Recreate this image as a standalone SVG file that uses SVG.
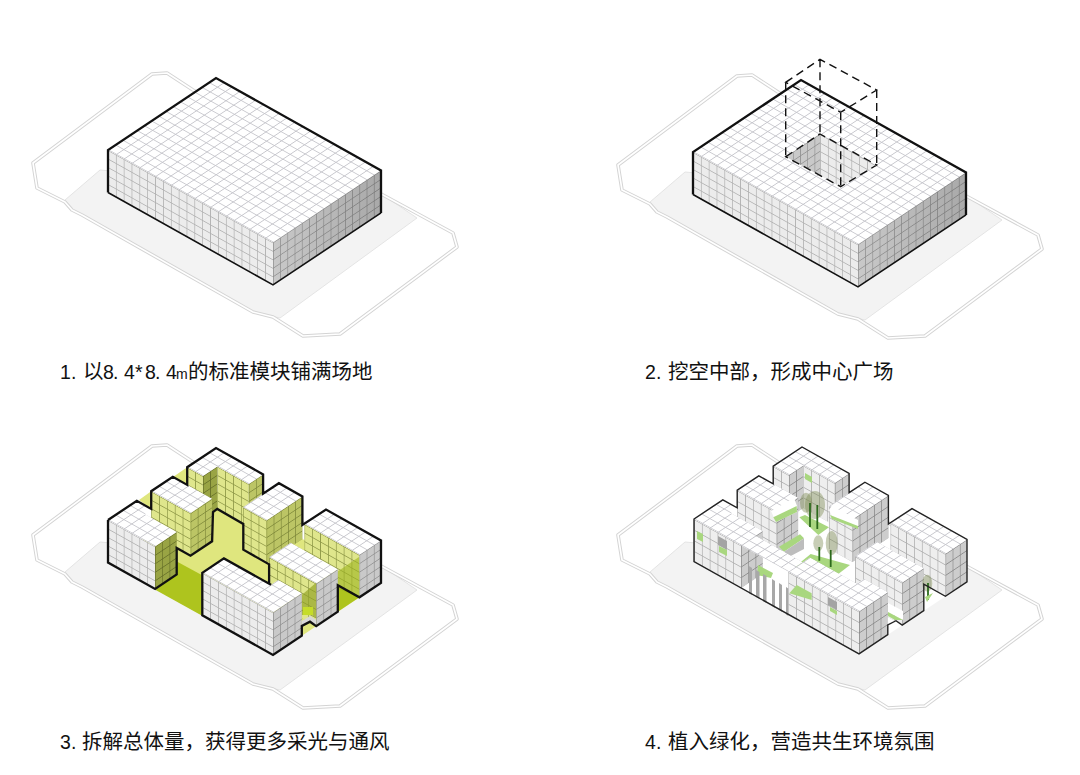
<svg xmlns="http://www.w3.org/2000/svg" xmlns:xlink="http://www.w3.org/1999/xlink" width="1080" height="775" viewBox="0 0 1080 775">
<style>
.cap{font-family:"Noto Sans CJK SC","Noto Sans",sans-serif;font-size:20.5px;fill:#111}
.num{font-family:"Liberation Sans","Noto Sans CJK SC",sans-serif;font-size:19.5px}
.m{font-family:"Liberation Sans",sans-serif;font-size:14px}
.bold{fill:none;stroke:#111;stroke-width:2.3;stroke-linejoin:miter}
.thin{fill:none;stroke:#222;stroke-width:1.4}
.dash{fill:none;stroke:#111;stroke-width:1.4;stroke-dasharray:8 5}
.lawn{fill:#a9d77f}
.crown{fill:#7d8a52;fill-opacity:.42}
.trunk{fill:none;stroke:#2c6a1c;stroke-width:1.8}
</style>
<defs>
<pattern id="tp" width="1" height="1" patternUnits="userSpaceOnUse"><rect width="1" height="1" fill="#fff"/><path d="M0 .05H1M.05 0V1" stroke="#c4c4ca" stroke-width=".1" fill="none"/></pattern>
<pattern id="wl" width="1" height="1" patternUnits="userSpaceOnUse"><rect width="1" height="1" fill="#ececec"/><path d="M0 .05H1M.05 0V1" stroke="#b0b0b0" stroke-width=".1" fill="none"/></pattern>
<pattern id="wr" width="1" height="1" patternUnits="userSpaceOnUse"><rect width="1" height="1" fill="#c9c9c9"/><path d="M0 .05H1M.05 0V1" stroke="#8e8e8e" stroke-width=".1" fill="none"/></pattern>
<pattern id="yl" width="1" height="1" patternUnits="userSpaceOnUse"><rect width="1" height="1" fill="#dfe68c"/><path d="M0 .05H1M.05 0V1" stroke="#8f9948" stroke-width=".1" fill="none"/></pattern>
<pattern id="yr" width="1" height="1" patternUnits="userSpaceOnUse"><rect width="1" height="1" fill="#bcc565"/><path d="M0 .05H1M.05 0V1" stroke="#7c8638" stroke-width=".1" fill="none"/></pattern>
<pattern id="yd" width="1" height="1" patternUnits="userSpaceOnUse"><rect width="1" height="1" fill="#99a444"/><path d="M0 .05H1M.05 0V1" stroke="#626c26" stroke-width=".1" fill="none"/></pattern>
<pattern id="gl" width="1" height="1.25" patternUnits="userSpaceOnUse"><rect width="1" height="1.25" fill="#eeeeee"/><path d="M0 .05H1M.05 0V1.25" stroke="#aeaeae" stroke-width=".1" fill="none"/></pattern>
<pattern id="gr" width="1" height="1.25" patternUnits="userSpaceOnUse"><rect width="1" height="1.25" fill="#cdcdcd"/><path d="M0 .05H1M.05 0V1.25" stroke="#848484" stroke-width=".1" fill="none"/></pattern>
<linearGradient id="shade" x1="0" x2="1" y1="0" y2="0"><stop offset="0" stop-color="#000" stop-opacity="0"/><stop offset="1" stop-color="#000" stop-opacity=".16"/></linearGradient>
<g id="site">
<polygon points="100,170 65,200 72,210 82,215 253,312 280,318 417,218 383,195" fill="#f3f3f3" stroke="#e4e4e4"/>
<g fill="none" stroke-linejoin="round">
<path d="M33 163L37 188L65 202L72 210L82 215L253 312L273 317L303 336L340 334L457 247L453 233L383 195L193 90L167 73L152 74Z" stroke="#d4d4d4" stroke-width="3.6"/>
<path d="M33 163L37 188L65 202L72 210L82 215L253 312L273 317L303 336L340 334L457 247L453 233L383 195L193 90L167 73L152 74Z" stroke="#fff" stroke-width="1.6"/>
</g>
</g>
<g id="box">
<g transform="matrix(7.857 4.4 7.2 -4.8 108 520)"><polygon fill="url(#tp)" points="0,0 21,0 21,15 0,15"/></g>
<g transform="matrix(7.857 4.4 0 8.5 108 520)"><rect fill="url(#wl)" width="21" height="5"/></g>
<g transform="matrix(7.2 -4.8 0 8.5 273 612.4)"><rect fill="url(#wr)" width="15" height="5"/><rect fill="url(#shade)" width="15" height="5"/></g>
<path class="bold" d="M108 562.5V520L216 448L381 540.4V582.9"/>
<path class="bold" style="stroke-width:1.6" d="M108 562.5L273 654.9L381 582.9"/>
</g>
</defs>
<rect width="1080" height="775" fill="#fff"/>

<g id="panel-1">
<use href="#site"/>
<use href="#box" transform="translate(0,-370)"/>
<text class="cap" y="379"><tspan class="num" x="60 71">1.</tspan><tspan x="83">以</tspan><tspan class="num" x="103 113 124 135 145 155 166">8.4*8.4</tspan><tspan class="m" x="176">m</tspan><tspan x="188">的标准模块铺满场地</tspan></text>
</g>

<g id="panel-2">
<use href="#site" transform="translate(585,2)"/>
<use href="#box" transform="translate(585,-368)"/>
<g id="void">
<g transform="matrix(7.2 -4.8 0 8.5 785.7 156.7)"><polygon fill="url(#wr)" points="0,0 4.76,0 4.76,4.89"/></g>
<g transform="matrix(7.857 4.4 0 8.5 820 134)"><polygon fill="url(#wl)" points="0,0 7.2,0 2.63,4.84 0,4.89"/></g>
<path class="dash" d="M785.7 82.3L820 59.3L876.7 90L840.7 112.3ZM785.7 156.7L820 134L876.7 165L840.7 186.7ZM785.7 82.3V156.7M820 59.3V134M876.7 90V165M840.7 112.3V186.7"/>
</g>
<text class="cap" y="379"><tspan class="num" x="645 656">2.</tspan><tspan x="668">挖空中部，形成中心广场</tspan></text>
</g>

<g id="panel-3">
<use href="#site" transform="translate(0,372)"/>
<polygon points="108,562.5 216,490.5 381,582.9 273,654.9" fill="#dfe67e"/>
<polygon points="139,500 151.2,491.2 151.2,509" fill="#dfe67e"/>
<polygon points="173,477 187.2,467.2 187.2,485" fill="#dfe67e"/>
<polygon points="177.3,561.7 201.7,575 201.7,615.5 155.7,590" fill="#aec41e"/>
<polygon points="337.8,585.2 359.4,597.3 337.8,611.7" fill="#aec41e"/>
<g id="p3-block-c">
<g transform="matrix(7.857 4.4 0 8.5 187.2 467.2)"><rect fill="url(#yl)" width="2" height="5"/></g>
<g transform="matrix(7.2 -4.8 0 8.5 123.7 528.8)"><rect fill="url(#yd)" x="11" width="2" height="5"/></g>
<g transform="matrix(7.857 4.4 0 8.5 201.6 457.6)"><rect fill="url(#yl)" x="2" width="4" height="5"/></g>
<g transform="matrix(7.2 -4.8 0 8.5 155.1 546.4)"><rect fill="url(#yr)" x="13" width="2" height="5"/></g>
<g transform="matrix(7.857 4.4 7.2 -4.8 108 520)"><polygon fill="url(#tp)" points="0,11 2,11 2,13 6,13 6,15 0,15"/></g>
</g>
<g id="p3-block-b">
<g transform="matrix(7.857 4.4 0 8.5 151.2 491.2)"><rect fill="url(#yl)" width="5" height="5"/></g>
<g transform="matrix(7.2 -4.8 0 8.5 147.3 542)"><rect fill="url(#yr)" x="6" width="3" height="5"/></g>
<g transform="matrix(7.857 4.4 7.2 -4.8 108 520)"><polygon fill="url(#tp)" points="0,6 5,6 5,9 0,9"/></g>
</g>
<g id="p3-block-d">
<g transform="matrix(7.857 4.4 0 8.5 180 472)"><rect fill="url(#yl)" x="8" width="3" height="5"/></g>
<g transform="matrix(7.2 -4.8 0 8.5 194.4 568.4)"><rect fill="url(#yr)" x="10" width="5" height="5"/></g>
<g transform="matrix(7.857 4.4 7.2 -4.8 108 520)"><polygon fill="url(#tp)" points="8,10 11,10 11,15 8,15"/></g>
</g>
<g id="p3-block-a">
<g transform="matrix(7.857 4.4 0 8.5 108 520)"><rect fill="url(#wl)" width="6" height="5"/></g>
<g transform="matrix(7.2 -4.8 0 8.5 155.1 546.4)"><rect fill="url(#yd)" width="3" height="5"/></g>
<g transform="matrix(7.857 4.4 7.2 -4.8 108 520)"><polygon fill="url(#tp)" points="0,0 6,0 6,3 1.9,3 1.9,4 0,4"/></g>
</g>
<g id="p3-block-e">
<g transform="matrix(7.857 4.4 0 8.5 194.4 462.4)"><rect fill="url(#yl)" x="14" width="7" height="5"/></g>
<polygon points="359.3,556.7 337.3,571.7 337.3,588.3 359.3,598" fill="#9db41c" fill-opacity=".6"/>
<g transform="matrix(7.2 -4.8 0 8.5 273 612.4)"><rect fill="url(#wr)" x="12" width="3" height="5"/></g>
<g transform="matrix(7.857 4.4 7.2 -4.8 108 520)"><polygon fill="url(#tp)" points="14,12 21,12 21,15 14,15"/></g>
</g>
<g id="p3-block-f">
<g transform="matrix(7.857 4.4 0 8.5 151.2 491.2)"><rect fill="url(#yl)" x="15" width="6" height="5"/></g>
<polygon points="317.3,581.7 301.7,595 301.7,615 312,615 316.2,618" fill="#8f9f20" fill-opacity=".65"/>
<polygon points="303,607 313,607 313,615 303,615" fill="#c5dc2a"/>
<polygon points="301.8,621 310,616 316.2,620 316.2,626.1 310,621.7 301.8,626" fill="#d8d8d8"/>
<g transform="matrix(7.2 -4.8 0 8.5 273 612.4)"><rect fill="url(#wr)" x="6" width="3" height="5"/></g>
<g transform="matrix(7.857 4.4 7.2 -4.8 108 520)"><polygon fill="url(#tp)" points="15,6 21,6 21,9 15,9"/></g>
</g>
<g id="p3-block-g">
<g transform="matrix(7.857 4.4 0 8.5 108 520)"><rect fill="url(#wl)" x="12" width="9" height="5"/></g>
<g transform="matrix(7.2 -4.8 0 8.5 273 612.4)"><rect fill="url(#wr)" width="4" height="5"/></g>
<g transform="matrix(7.857 4.4 7.2 -4.8 108 520)"><polygon fill="url(#tp)" points="12,0 21,0 21,4 18,4 18,3 12,3"/></g>
</g>
<path class="bold" d="M108 520L136.8 500.8L151.2 508.9V491.2L172.8 476.8L187.2 484.9V467.2L216 448L263.1 474.4V493.7L278.9 483.2L302.4 496.4V525L326 509.6L381 540.4V582.9L359.4 597.3L337.8 585.2V611.7L316.2 626.1L310 621.7L301.8 626V635.7L273 654.9L202.3 615.3V572.8L223.9 558.4L271 584.8M269.1 584V564.3L243.3 549.7V524L217.3 508.9L213 512L212.1 541.3L190.5 555.7L176.7 548V574.5L155.1 588.9L108 562.5V520"/>
<text class="cap" y="749"><tspan class="num" x="60 71">3.</tspan><tspan x="82">拆解总体量，获得更多采光与通风</tspan></text>
</g>

<g id="panel-4">
<use href="#site" transform="translate(585,372)"/>
<g transform="translate(586,-1)">
<polygon points="108,562.5 216,490.5 381,582.9 273,654.9" fill="#fff"/>
<g id="p4-block-c">
<g transform="matrix(7.857 4.4 0 8.5 187.2 467.2)"><rect fill="url(#gl)" width="2" height="5"/></g>
<g transform="matrix(7.2 -4.8 0 8.5 123.7 528.8)"><rect fill="url(#gr)" x="11" width="2" height="5"/></g>
<g transform="matrix(7.857 4.4 0 8.5 201.6 457.6)"><rect fill="url(#gl)" x="2" width="4" height="5"/></g>
<g transform="matrix(7.2 -4.8 0 8.5 155.1 546.4)"><rect fill="url(#gr)" x="13" width="2" height="5"/></g>
<g transform="matrix(7.857 4.4 7.2 -4.8 108 520)"><polygon fill="url(#tp)" points="0,11 2,11 2,13 6,13 6,15 0,15"/></g>
</g>
<g id="p4-block-b">
<g transform="matrix(7.857 4.4 0 8.5 151.2 491.2)"><rect fill="url(#gl)" width="5" height="5"/></g>
<g transform="matrix(7.2 -4.8 0 8.5 147.3 542)"><rect fill="url(#gr)" x="6" width="3" height="5"/></g>
<g transform="matrix(7.857 4.4 7.2 -4.8 108 520)"><polygon fill="url(#tp)" points="0,6 5,6 5,9 0,9"/></g>
</g>
<g id="p4-block-d">
<g transform="matrix(7.857 4.4 0 8.5 180 472)"><rect fill="url(#gl)" x="8" width="3" height="5"/></g>
<g transform="matrix(7.2 -4.8 0 8.5 194.4 568.4)"><rect fill="url(#gr)" x="10" width="5" height="5"/></g>
<g transform="matrix(7.857 4.4 7.2 -4.8 108 520)"><polygon fill="url(#tp)" points="8,10 11,10 11,15 8,15"/></g>
</g>
</g>
<g id="p4-green">
<polygon class="lawn" points="795,566.7 810.7,554 850,565 836,575.7"/>
<polygon class="lawn" points="799.3,517.3 805,515 829,527.3 818.3,535"/>
<polygon class="lawn" points="805,473 812,477 812,483 805,479"/>
<polygon points="771,511 794,498 797,506 797,512 776,522" fill="#fff"/>
<polygon class="lawn" points="773.3,517.3 796.7,506 797,512 776,522"/>
<polygon class="lawn" points="779,546.7 800,534.3 804,538.3 784,551.7"/>
<polygon points="784,551.7 804,538.3 804,549 785,559" fill="#bdbdbd"/>
<polygon points="829,510 832,506 858,520 858,528 832,516" fill="#fff"/>
<polygon class="lawn" points="830,515 858,526 858,529 832,519"/>
</g>
<g id="p4-trees">
<ellipse class="crown" cx="806" cy="502.7" rx="6" ry="10"/>
<ellipse class="crown" cx="815" cy="505" rx="10" ry="14"/>
<ellipse class="crown" cx="818.3" cy="543.3" rx="5" ry="8"/>
<ellipse class="crown" cx="831.7" cy="543" rx="6" ry="12"/>
<path class="trunk" d="M810 503V527M817.3 505V529M819.3 547V560.7M830.7 550V567"/>
</g>
<g transform="translate(586,-1)">
<g id="p4-block-a">
<g transform="matrix(7.857 4.4 0 8.5 108 520)"><rect fill="url(#gl)" width="6" height="5"/></g>
<g transform="matrix(7.2 -4.8 0 8.5 155.1 546.4)"><rect fill="url(#gr)" width="3" height="5"/></g>
<g transform="matrix(7.857 4.4 7.2 -4.8 108 520)"><polygon fill="url(#tp)" points="0,0 6,0 6,3 1.9,3 1.9,4 0,4"/></g>
</g>
<g id="p4-block-e">
<g transform="matrix(7.857 4.4 0 8.5 194.4 462.4)"><rect fill="url(#gl)" x="14" width="7" height="5"/></g>
<g transform="matrix(7.2 -4.8 0 8.5 273 612.4)"><rect fill="url(#gr)" x="12" width="3" height="5"/></g>
<g transform="matrix(7.857 4.4 7.2 -4.8 108 520)"><polygon fill="url(#tp)" points="14,12 21,12 21,15 14,15"/></g>
</g>
<g id="p4-block-f">
<g transform="matrix(7.857 4.4 0 8.5 151.2 491.2)"><rect fill="url(#gl)" x="15" width="6" height="5"/></g>
<g transform="matrix(7.2 -4.8 0 8.5 273 612.4)"><rect fill="url(#gr)" x="6" width="3" height="5"/></g>
<g transform="matrix(7.857 4.4 7.2 -4.8 108 520)"><polygon fill="url(#tp)" points="15,6 21,6 21,9 15,9"/></g>
</g>
<g id="p4-bridge">
<g transform="matrix(7.857 4.4 7.2 -4.8 108 520)"><polygon fill="url(#tp)" points="6,0 12,0 12,2 6,2"/></g>
</g>
<g id="p4-block-g">
<g transform="matrix(7.857 4.4 0 8.5 108 520)"><rect fill="url(#gl)" x="12" width="9" height="5"/></g>
<g transform="matrix(7.2 -4.8 0 8.5 273 612.4)"><rect fill="url(#gr)" width="4" height="5"/></g>
<g transform="matrix(7.857 4.4 7.2 -4.8 108 520)"><polygon fill="url(#tp)" points="12,0 21,0 21,4 18,4 18,3 12,3"/></g>
</g>
</g>
<g id="p4-details">
<polygon class="lawn" points="758,565 773,573 771,578 757,575"/>
<g fill="#a8a8a8">
<polygon points="749,566 752,568 752,595 749,593.5"/>
<polygon points="756,570 759.5,572 759.5,599 756,597"/>
<polygon points="763,574 766.5,576 766.5,603 763,601"/>
<polygon points="772,579 775,581 775,608 772,606"/>
<polygon points="779,583 782,585 782,612 779,610"/>
<polygon points="786,587 788.3,588.5 788.3,616 786,614.5"/>
</g>
<polygon class="lawn" points="697,531 703,534 703,542 697,539"/>
<polygon points="718,536 727,541 727,550 718,545" fill="#a4a4a4"/>
<polygon class="lawn" points="719,546 727,550 727,556 719,552"/>
<polygon class="lawn" points="789.3,593.3 796.7,585 811.7,593.3 811.7,600"/>
<polygon points="828,597 837,602 837,610 828,605" fill="#a4a4a4"/>
<polygon class="lawn" points="830,607 837,611 837,615 830,611"/>
<polygon points="888,603 903,611 903,620 888,612" fill="#fff"/>
<polygon class="lawn" points="888,612 903,620 895,620 888,616"/>
<ellipse class="crown" cx="927.3" cy="583.3" rx="5" ry="8.5"/>
<path class="trunk" d="M928 583V600"/>
<polygon class="lawn" points="925,597 933,593 927,602"/>
</g>
<path class="thin" transform="translate(586,-1)" d="M108 520L136.8 500.8L151.2 508.9V491.2L172.8 476.8L187.2 484.9V467.2L216 448L263.1 474.4V493.7L278.9 483.2L302.4 496.4V525L326 509.6L381 540.4V582.9L359.4 597.3L337.8 585.2V611.7L316.2 626.1L310 621.7L301.8 626V635.7L273 654.9L108 562.5Z"/>
<text class="cap" y="749"><tspan class="num" x="645 656">4.</tspan><tspan x="668">植入绿化，营造共生环境氛围</tspan></text>
</g>
</svg>
